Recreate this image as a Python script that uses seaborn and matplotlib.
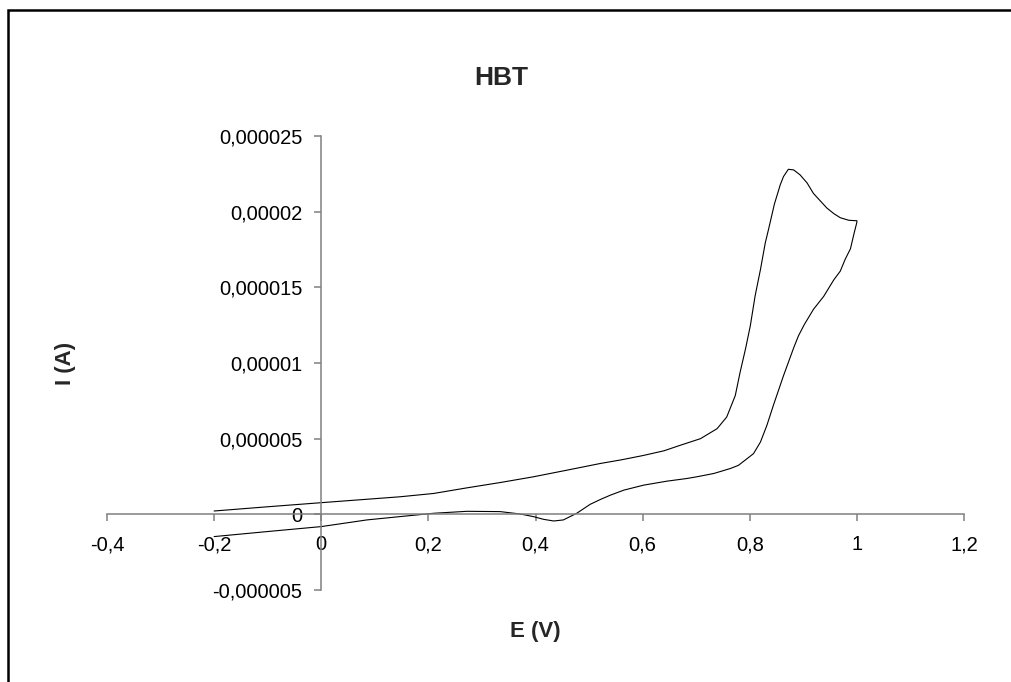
import numpy as np
import matplotlib
matplotlib.use("Agg")
import matplotlib.pyplot as plt
import seaborn as sns
from matplotlib.patches import Rectangle

# -----------------------------
# Data (current in microamps)
# -----------------------------
# anodic sweep, -0.2 V -> 1.0 V
e_forward = [-0.2, -0.1, 0.0, 0.147, 0.21, 0.272, 0.334, 0.396, 0.459, 0.521,
             0.56, 0.6, 0.64, 0.67, 0.708, 0.739, 0.757, 0.773, 0.782, 0.792,
             0.801, 0.81, 0.82, 0.829, 0.835, 0.846, 0.857, 0.863, 0.872, 0.882,
             0.894, 0.907, 0.919, 0.932, 0.944, 0.957, 0.969, 0.985, 1.0]
i_forward_ua = [0.22, 0.5, 0.77, 1.16, 1.38, 1.75, 2.1, 2.48, 2.92, 3.36,
                3.6, 3.88, 4.2, 4.56, 5.0, 5.66, 6.43, 7.85, 9.39, 10.92,
                12.45, 14.43, 16.18, 17.94, 18.82, 20.5, 21.78, 22.32, 22.8, 22.76,
                22.43, 21.9, 21.2, 20.7, 20.24, 19.87, 19.6, 19.43, 19.4]

# cathodic sweep, 1.0 V -> -0.2 V
e_reverse = [1.0, 0.995, 0.988, 0.978, 0.969, 0.957, 0.938, 0.919, 0.902, 0.891,
             0.882, 0.863, 0.844, 0.832, 0.82, 0.807, 0.795, 0.779, 0.764, 0.733,
             0.701, 0.683, 0.645, 0.602, 0.565, 0.54, 0.521, 0.502, 0.477, 0.452,
             0.434, 0.415, 0.396, 0.372, 0.334, 0.272, 0.21, 0.147, 0.085, 0.0,
             -0.101, -0.2]
i_reverse_ua = [19.3, 18.6, 17.55, 16.84, 16.07, 15.5, 14.4, 13.55, 12.55, 11.8,
                11.0, 9.16, 7.19, 5.88, 4.78, 4.01, 3.68, 3.24, 3.03, 2.7,
                2.48, 2.37, 2.19, 1.93, 1.6, 1.27, 0.98, 0.66, 0.07, -0.37,
                -0.44, -0.33, -0.15, 0.02, 0.18, 0.2, 0.07, -0.15, -0.37, -0.81,
                -1.14, -1.47]

x_ticks = [-0.4, -0.2, 0.0, 0.2, 0.4, 0.6, 0.8, 1.0, 1.2]
x_tick_labels = ["-0,4", "-0,2", "0", "0,2", "0,4", "0,6", "0,8", "1", "1,2"]
y_ticks = [-0.000005, 0.0, 0.000005, 0.00001, 0.000015, 0.00002, 0.000025]
y_tick_labels = ["-0,000005", "0", "0,000005", "0,00001", "0,000015", "0,00002", "0,000025"]

# -----------------------------
# Plot
# -----------------------------
sns.set_theme(style="white")
plt.rcParams['font.family'] = ['Liberation Sans', 'DejaVu Sans']

W, H = 1011, 682
fig = plt.figure(figsize=(W / 100, H / 100), dpi=100)
ax = fig.add_axes([107 / W, 92 / H, 857 / W, 454 / H])

E = np.array(e_forward + e_reverse)
I = np.array(i_forward_ua + i_reverse_ua) * 1e-6
sns.lineplot(x=E, y=I, sort=False, estimator=None, color='black', linewidth=0.8, ax=ax)

ax.set_xlim(-0.4, 1.2)
ax.set_ylim(-0.000005, 0.000025)

# axes cross at zero, Excel style
for side in ['top', 'right']:
    ax.spines[side].set_visible(False)
ax.spines['left'].set_position(('data', 0))
ax.spines['bottom'].set_position(('data', 0))
for side in ['left', 'bottom']:
    ax.spines[side].set_color('#808080')
    ax.spines[side].set_linewidth(1.1)

ax.set_xticks(x_ticks)
ax.set_xticklabels(x_tick_labels)
ax.set_yticks(y_ticks)
ax.set_yticklabels(y_tick_labels)
ax.tick_params(axis='x', direction='out', length=5, width=1.1, color='#808080',
               labelcolor='black', labelsize=14.5, pad=10, bottom=True)
ax.tick_params(axis='y', direction='out', length=5, width=1.1, color='#808080',
               labelcolor='black', labelsize=14.5, pad=8.5, left=True)

ax.set_xlabel("E (V)", fontsize=16, fontweight='bold', va='center')
ax.xaxis.set_label_coords(0.5, -(631 - 590) / 454)
ax.set_ylabel("I (A)", fontsize=16, fontweight='bold', va='center')
ax.yaxis.set_label_coords((66 - 107) / 857, 0.5)

fig.text(501 / W, 1 - 78 / H, "HBT", ha='center', va='center', fontsize=19, fontweight='bold')

# outer chart frame (only left and top edges are inside the picture)
fig.patches.append(Rectangle((8 / W, -0.5), 2.0, (1 - 10 / H) + 0.5, transform=fig.transFigure,
                             fill=False, edgecolor='black', linewidth=1.8))

fig.savefig('out.png', dpi=100)
plt.close(fig)
